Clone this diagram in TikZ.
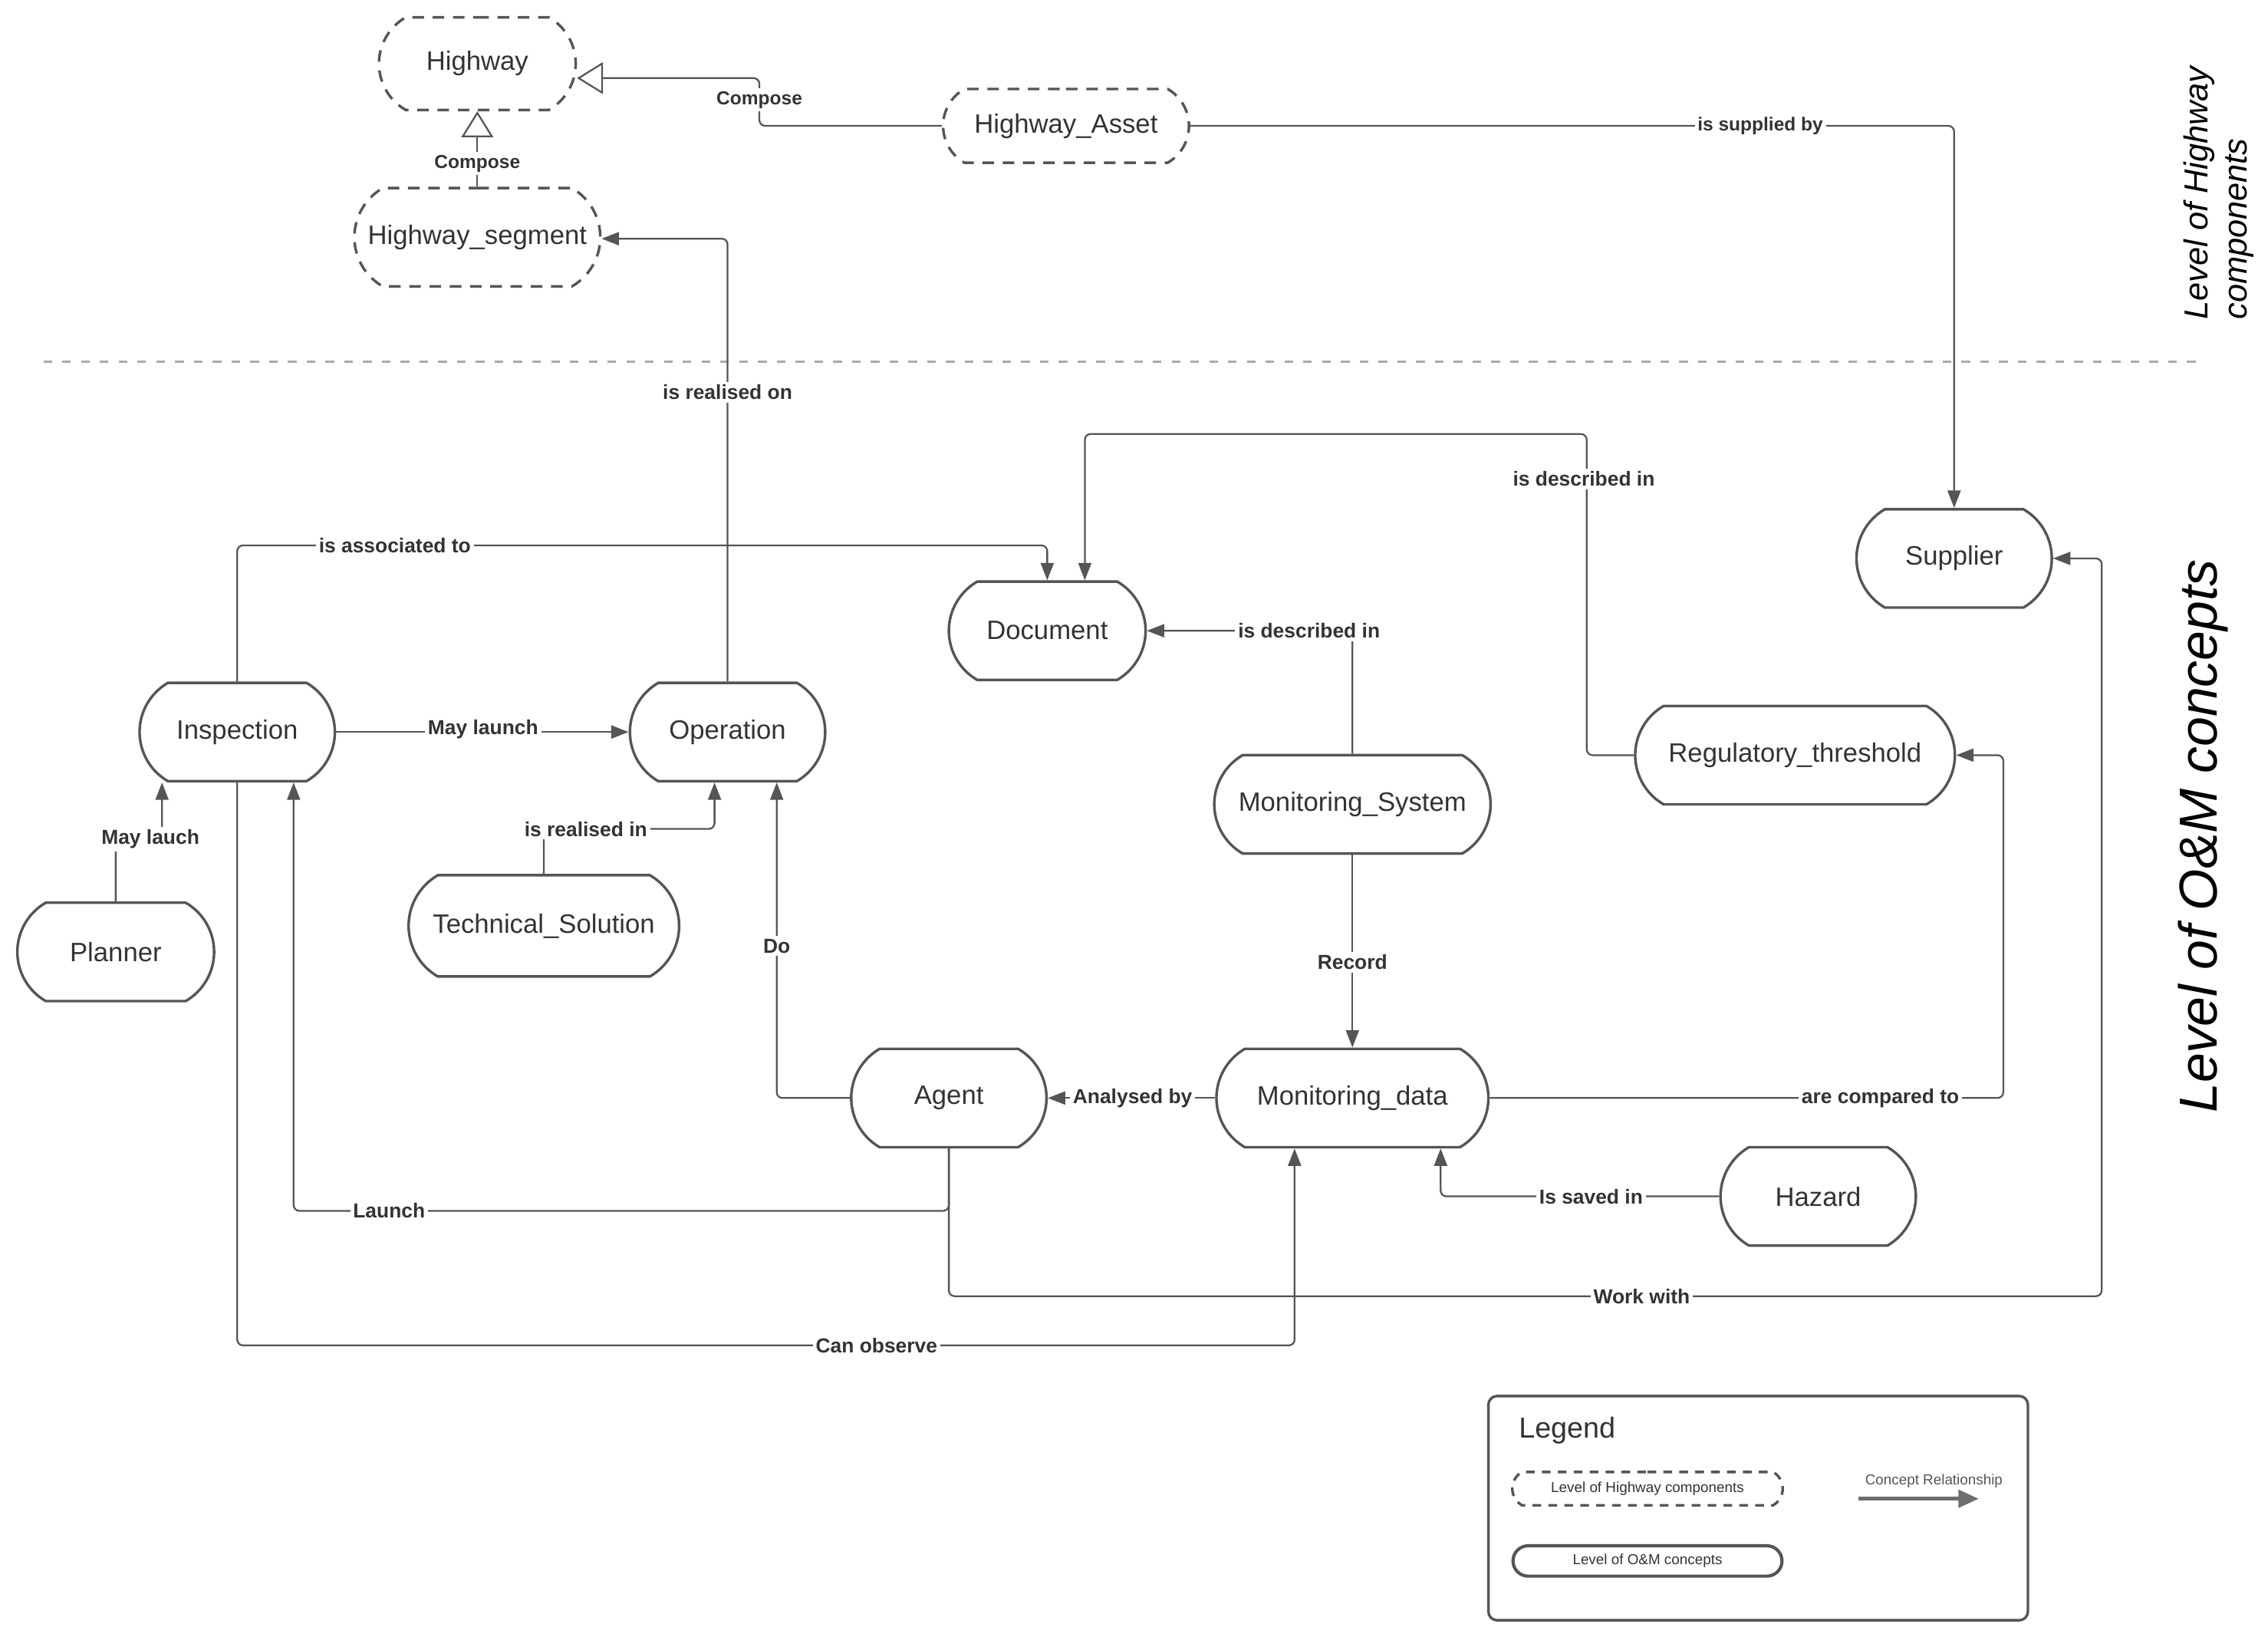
\documentclass[tikz,border=0pt]{standalone}
\usepackage{fontspec}
\setmainfont{Liberation Sans}
\usetikzlibrary{shapes.misc,arrows.meta}
\definecolor{ln}{HTML}{555555}
\definecolor{tx}{HTML}{333333}
\definecolor{sepc}{HTML}{AAAAAA}
\begin{document}
\begin{tikzpicture}[x=0.5pt,y=-0.5pt,
  om/.style={draw=ln, line width=0.9pt, rounded rectangle, rounded rectangle arc length=120,
    inner sep=0pt, minimum width=#1, minimum height=34pt,
    font=\fontsize{9.2}{11}\selectfont, text=tx},
  hc/.style={om=#1, dashed, dash pattern=on 4pt off 3pt},
  conn/.style={draw=ln, line width=0.6pt, rounded corners=2pt, -{Triangle[length=6pt,width=4.5pt]}},
  gen/.style={draw=ln, line width=0.6pt, rounded corners=2pt, -{Triangle[open,length=9pt,width=11pt]}},
  lbl/.style={fill=white, inner sep=1pt, font=\fontsize{7}{8}\selectfont\bfseries, text=tx},
  clbl/.style={lbl, font=\fontsize{6.5}{7.5}\selectfont\bfseries},
]
\useasboundingbox (0,0) rectangle (1568,1138);

% ---------- Level of Highway components ----------
\node[hc=68pt, minimum height=32pt] (hw) at (330,44) {Highway};
\node[hc=85pt, minimum height=25.5pt] (asset) at (737,87) {Highway\_Asset};
\node[hc=85pt] (seg) at (330,164) {Highway\_segment};

% separator
\coordinate (sepL) at (30,250);
\coordinate (sepR) at (1525,250);
\draw[sepc, line width=0.9pt, dash pattern=on 3pt off 3.5pt] (sepL) -- (sepR);

\node[rotate=90, anchor=west, align=left, font=\itshape\fontsize{11.5}{13.5}\selectfont, text=black] (lvlH) at (1534,228) {Level of Highway\\components};
\node[rotate=90, font=\itshape\fontsize{18.5}{20}\selectfont, text=black] (lvlOM) at (1523,578) {Level of O\&M concepts};

% ---------- O&M concepts ----------
\node[om=67.5pt] (sup) at (1351,386) {Supplier};
\node[om=68pt] (doc) at (724,436) {Document};
\node[om=67.5pt] (insp) at (164,506) {Inspection};
\node[om=67.5pt] (oper) at (503,506) {Operation};
\node[om=110.5pt] (reg) at (1241,522) {Regulatory\_threshold};
\node[om=95.5pt] (msys) at (935,556) {Monitoring\_System};
\node[om=68pt] (plan) at (80,658) {Planner};
\node[om=93.5pt, minimum height=35pt] (tech) at (376,640) {Technical\_Solution};
\node[om=67.5pt] (agent) at (656,759) {Agent};
\node[om=94pt] (mdata) at (935,759) {Monitoring\_data};
\node[om=67.5pt] (haz) at (1257,827) {Hazard};

% helper coordinates
\coordinate (a1) at (525,87);   \coordinate (a2) at (525,54);
\coordinate (s1) at (1351,87);
\coordinate (r1) at (503,165);
\coordinate (i1) at (164,377);  \coordinate (i2) at (724,377);
\coordinate (g1) at (1097,522); \coordinate (g2) at (1097,300); \coordinate (g3) at (750,300);
\coordinate (m1) at (935,436);
\coordinate (p1) at (80,580);   \coordinate (p2) at (112,580);
\coordinate (t1) at (376,573);  \coordinate (t2) at (494,573);
\coordinate (d1) at (537,759);
\coordinate (l1) at (656,837);  \coordinate (l2) at (203,837);
\coordinate (c1) at (1385,759); \coordinate (c2) at (1385,522);
\coordinate (h1) at (996,827);
\coordinate (w1) at (656,896);  \coordinate (w2) at (1453,896); \coordinate (w3) at (1453,386);
\coordinate (o1) at (164,930);  \coordinate (o2) at (895,930);

% ---------- connectors ----------
\draw[gen] (asset.west) -- (a1) -- (a2) -- (hw.east |- a2);
\draw[gen] (seg.north) -- (hw.south);
\draw[conn] (asset.east) -- (s1) -- (sup.north);
\draw[conn] (oper.north) -- (r1) -- (seg.east |- r1);
\draw[conn] (insp.north) -- (i1) -- (i2) -- (doc.north -| i2);
\draw[conn] (reg.west |- g1) -- (g1) -- (g2) -- (g3) -- (doc.north -| g3);
\draw[conn] (msys.north) -- (m1) -- (doc.east);
\draw[conn] (insp.east) -- (oper.west);
\draw[conn] (plan.north) -- (p1) -- (p2) -- (insp.south -| p2);
\draw[conn] (tech.north) -- (t1) -- (t2) -- (oper.south -| t2);
\draw[conn] (agent.west) -- (d1) -- (oper.south -| d1);
\draw[conn] (agent.south) -- (l1) -- (l2) -- (insp.south -| l2);
\draw[conn] (mdata.west) -- (agent.east);
\draw[conn] (msys.south) -- (mdata.north);
\draw[conn] (mdata.east) -- (c1) -- (c2) -- (reg.east |- c2);
\draw[conn] (haz.west) -- (h1) -- (mdata.south -| h1);
\draw[conn] (agent.south) -- (w1) -- (w2) -- (w3) -- (sup.east |- w3);
\draw[conn] (insp.south) -- (o1) -- (o2) -- (mdata.south -| o2);

% ---------- connector labels ----------
\node[clbl] (lb1) at (525,69) {Compose};
\node[clbl] (lb2) at (330,113) {Compose};
\node[clbl] (lb3) at (1217,87) {is supplied by};
\node[lbl] (lb4) at (503,271) {is realised on};
\node[lbl] (lb5) at (273,377) {is associated to};
\node[lbl] (lb6) at (1095,331) {is described in};
\node[lbl] (lb7) at (905,436) {is described in};
\node[lbl] (lb8) at (334,504) {May launch};
\node[lbl] (lb9) at (104,580) {May lauch};
\node[lbl] (lb10) at (405,573) {is realised in};
\node[lbl] (lb11) at (537,654) {Do};
\node[lbl] (lb12) at (269,837) {Launch};
\node[lbl] (lb13) at (783,759) {Analysed by};
\node[lbl] (lb14) at (935,665) {Record};
\node[lbl] (lb15) at (1300,759) {are compared to};
\node[lbl] (lb16) at (1100,827) {Is saved in};
\node[lbl] (lb17) at (1135,896) {Work with};
\node[lbl] (lb18) at (606,930) {Can observe};

% ---------- legend ----------
\node[draw=ln, line width=0.9pt, rounded corners=3pt, minimum width=186.5pt, minimum height=77.5pt, inner sep=0pt] (leg) at (1215.5,1042.5) {};
\node[anchor=west, font=\fontsize{10}{12}\selectfont, text=tx] (legT) at (1043,989) {Legend};
\node[hc=93.5pt, minimum height=11.5pt, dash pattern=on 3pt off 2.5pt, font=\fontsize{5}{6}\selectfont] (legH) at (1139,1029) {Level of Highway components};
\node[om=93pt, minimum height=10.5pt, rounded rectangle arc length=180, line width=1.1pt, font=\fontsize{5}{6}\selectfont] (legO) at (1139,1079) {Level of O\&M concepts};
\node[font=\fontsize{5}{6}\selectfont, text=ln] (legR) at (1337,1024) {Concept Relationship};
\coordinate (la) at (1285,1036);
\coordinate (lb) at (1368,1036);
\draw[draw=ln!85, line width=1.3pt, -{Triangle[length=7pt,width=6pt]}] (la) -- (lb);
\end{tikzpicture}
\end{document}
